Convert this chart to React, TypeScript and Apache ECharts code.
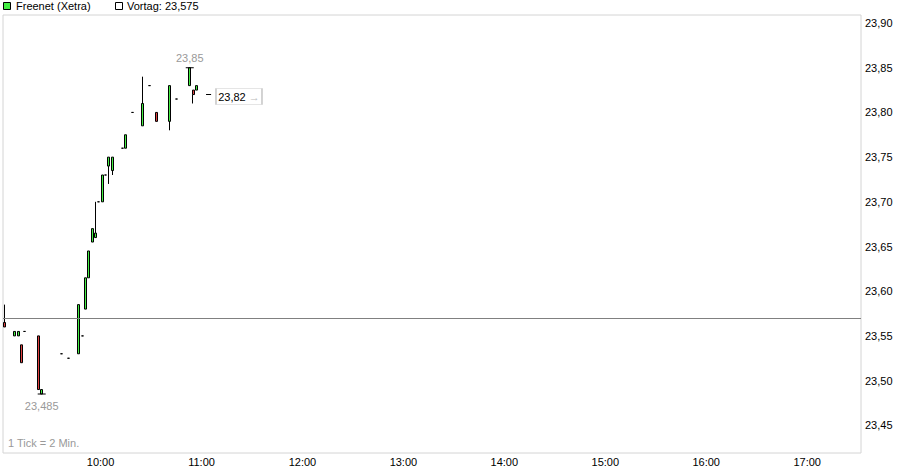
import React, { useEffect, useRef } from 'react';
import * as echarts from 'echarts';

// minutes after 09:00 (centre of each 2-minute candle)
const times = [3, 9, 11, 13, 15, 23, 25, 37, 41, 47, 49, 51, 53, 55, 57, 59, 61, 63, 65, 67, 73, 75, 79, 85, 89, 93, 101, 105, 113, 115, 117];
const opens = [23.565, 23.55, 23.55, 23.54, 23.555, 23.55, 23.485, 23.53, 23.525, 23.53, 23.55, 23.58, 23.615, 23.655, 23.66, 23.70, 23.70, 23.73, 23.74, 23.735, 23.76, 23.76, 23.80, 23.785, 23.83, 23.80, 23.79, 23.815, 23.83, 23.825, 23.825];
const closes = [23.56, 23.555, 23.555, 23.52, 23.555, 23.49, 23.49, 23.53, 23.525, 23.585, 23.55, 23.615, 23.645, 23.67, 23.665, 23.70, 23.73, 23.73, 23.75, 23.75, 23.76, 23.775, 23.80, 23.81, 23.83, 23.79, 23.83, 23.815, 23.85, 23.82, 23.83];
const lows = [23.56, 23.55, 23.55, 23.52, 23.555, 23.49, 23.485, 23.53, 23.525, 23.53, 23.55, 23.58, 23.615, 23.655, 23.66, 23.70, 23.70, 23.73, 23.72, 23.73, 23.76, 23.76, 23.80, 23.785, 23.83, 23.79, 23.78, 23.815, 23.83, 23.81, 23.825];
const highs = [23.585, 23.555, 23.555, 23.54, 23.555, 23.55, 23.49, 23.53, 23.525, 23.585, 23.55, 23.615, 23.645, 23.67, 23.70, 23.70, 23.73, 23.73, 23.75, 23.75, 23.76, 23.775, 23.80, 23.84, 23.83, 23.80, 23.83, 23.815, 23.85, 23.825, 23.83];

const xTickMinutes = [60, 120, 180, 240, 300, 360, 420, 480];
const yTickValues = [23.45, 23.5, 23.55, 23.6, 23.65, 23.7, 23.75, 23.8, 23.85, 23.9];

const prevClose = 23.575;
const lastPrice = 23.82;
const dayHigh = { t: 113, v: 23.85 };
const dayLow = { t: 25, v: 23.485 };

const FONT = 'Liberation Sans';
const GREEN = '#44ee44';
const RED = '#e04040';

const de = (v: number, d: number) => v.toFixed(d).replace('.', ',');

export default function App() {
  const ref = useRef<HTMLDivElement>(null);
  useEffect(() => {
    if (!ref.current) return;
    const chart = echarts.init(ref.current, undefined, { renderer: 'svg' });
    const data = times.map((t, i) => [t, opens[i], closes[i], lows[i], highs[i]]);
    chart.setOption({
      animation: false,
      textStyle: { fontFamily: FONT, fontSize: 11 },
      grid: {
        left: 3,
        right: 46,
        top: 15,
        bottom: 22,
        show: true,
        borderColor: '#d4d4d4',
        borderWidth: 1,
        backgroundColor: 'transparent',
      },
      xAxis: {
        type: 'value',
        min: 2,
        max: 512,
        axisLine: { show: false },
        axisTick: { show: false },
        splitLine: { show: false },
        axisLabel: {
          customValues: xTickMinutes,
          formatter: (v: number) => `${9 + Math.round(v / 60)}:00`,
          color: '#000',
          fontFamily: FONT,
          fontSize: 11,
          margin: 3,
        },
      },
      yAxis: {
        type: 'value',
        position: 'right',
        min: 23.419,
        max: 23.909,
        axisLine: { show: false },
        axisTick: { show: false },
        splitLine: { show: false },
        axisLabel: {
          customValues: yTickValues,
          formatter: (v: number) => de(v, 2),
          color: '#000',
          fontFamily: FONT,
          fontSize: 11,
          margin: 4,
          padding: [4, 0, 0, 0],
        },
      },
      graphic: [
        { type: 'rect', shape: { x: 3.5, y: 2.5, width: 7, height: 7 }, style: { fill: GREEN, stroke: '#000', lineWidth: 1 } },
        { type: 'text', x: 16, y: 6, style: { text: 'Freenet (Xetra)', fill: '#000', font: `11px "${FONT}"`, verticalAlign: 'middle' } },
        { type: 'rect', shape: { x: 115.5, y: 2.5, width: 7, height: 7 }, style: { fill: '#fff', stroke: '#000', lineWidth: 1 } },
        { type: 'text', x: 127, y: 6, style: { text: 'Vortag: ' + de(prevClose, 3), fill: '#000', font: `11px "${FONT}"`, verticalAlign: 'middle' } },
        { type: 'text', x: 8, y: 443, style: { text: '1 Tick = 2 Min.', fill: '#999', font: `11px "${FONT}"`, verticalAlign: 'middle' } },
      ],
      series: [
        {
          type: 'candlestick',
          data,
          encode: { x: 0, y: [1, 2, 3, 4] },
          barWidth: 2.5,
          itemStyle: {
            color: GREEN,
            color0: RED,
            borderColor: '#000',
            borderColor0: '#000',
            borderColorDoji: '#000',
            borderWidth: 1,
          },
          markLine: {
            silent: true,
            symbol: 'none',
            label: { show: false },
            data: [
              { yAxis: prevClose, lineStyle: { color: '#808080', width: 1, type: 'solid' } },
              [
                { coord: [122.7, lastPrice], lineStyle: { color: '#000', width: 1, type: 'solid' } },
                { coord: [125.7, lastPrice] },
              ],
            ],
          },
          markPoint: {
            silent: true,
            data: [
              {
                coord: [dayHigh.t, dayHigh.v],
                symbol: 'rect',
                symbolSize: [8, 1],
                itemStyle: { color: '#000' },
                label: { show: true, position: 'top', distance: 4, formatter: de(dayHigh.v, 2), color: '#999', fontFamily: FONT, fontSize: 11 },
              },
              {
                coord: [dayLow.t, dayLow.v],
                symbol: 'rect',
                symbolSize: [8, 1],
                itemStyle: { color: '#000' },
                label: { show: true, position: 'bottom', distance: 6, formatter: de(dayLow.v, 3), color: '#999', fontFamily: FONT, fontSize: 11 },
              },
              {
                coord: [128.6, lastPrice],
                symbol: 'rect',
                symbolSize: [46, 16],
                symbolOffset: [23, 2],
                itemStyle: { color: '#fff', borderColor: '#cccccc', borderWidth: 1 },
                label: {
                  show: true,
                  position: 'inside',
                  formatter: '{v|' + de(lastPrice, 2) + '} {a|→}',
                  rich: {
                    v: { color: '#000', fontFamily: FONT, fontSize: 11 },
                    a: { color: '#bbbbbb', fontFamily: FONT, fontSize: 11 },
                  },
                },
              },
            ],
          },
        },
      ],
    });
    return () => chart.dispose();
  }, []);
  return <div ref={ref} style={{ position: 'absolute', left: 0, top: 0, width: 907, height: 475 }} />;
}
